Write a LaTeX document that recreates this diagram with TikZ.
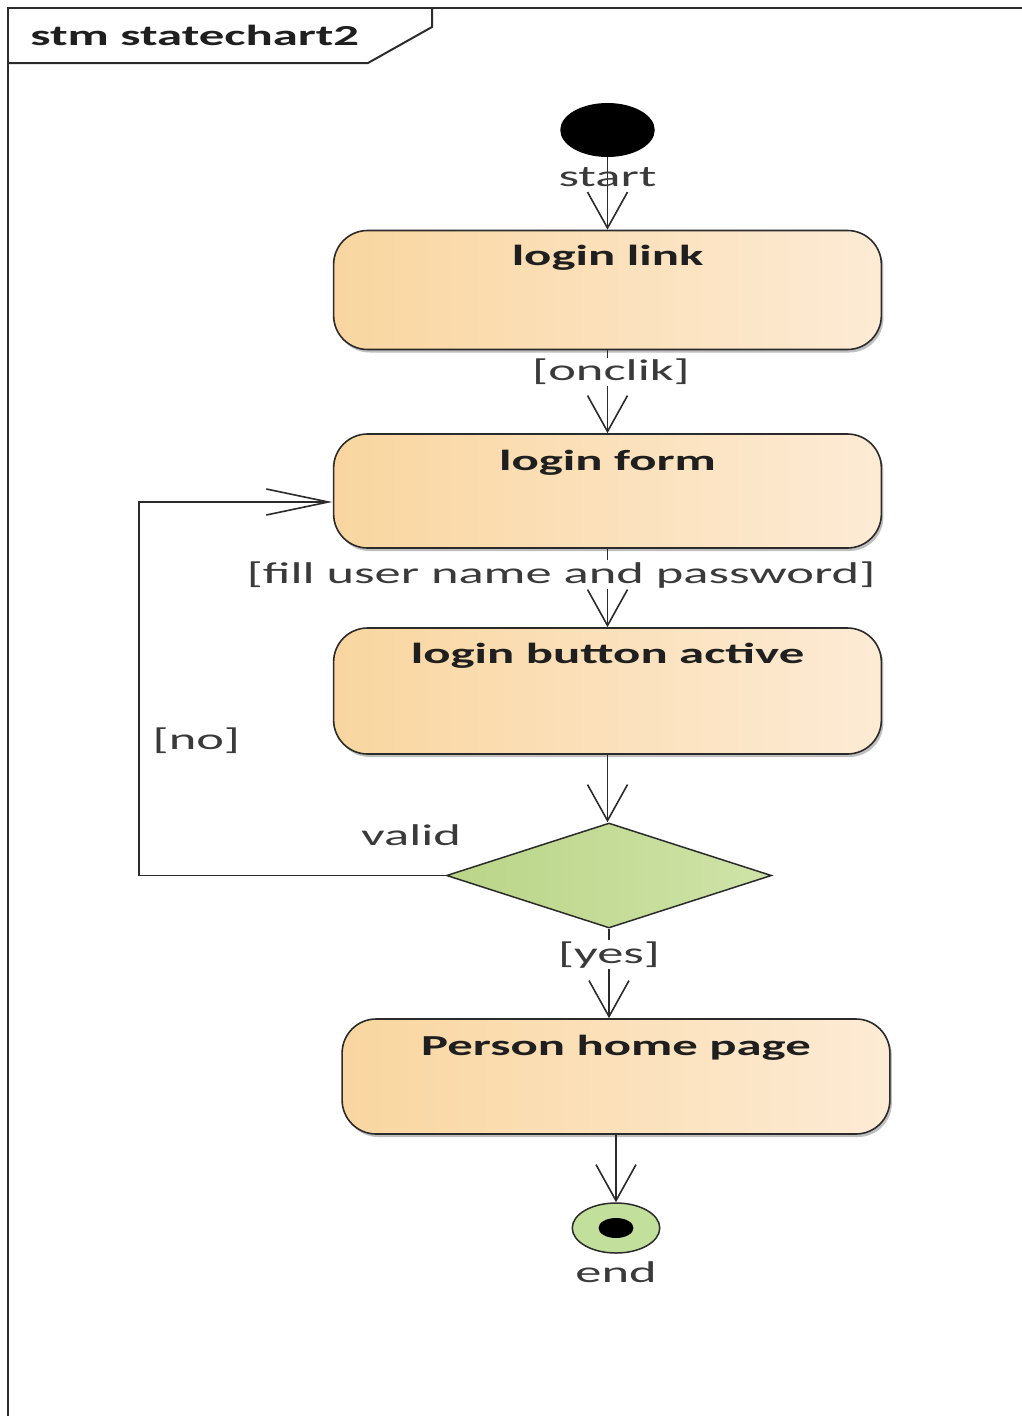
\documentclass[tikz,border=0pt]{standalone}
\usepackage{fontspec}
\setmainfont{Carlito}
\usetikzlibrary{arrows.meta,shapes.geometric,shadows,calc}

\definecolor{ink}{HTML}{2B2B2B}
\definecolor{txt}{HTML}{1F1F1F}
\definecolor{lbltxt}{HTML}{3A3A3A}
\definecolor{stateL}{HTML}{F9D6A0}
\definecolor{stateR}{HTML}{FDEBD5}
\definecolor{choiceL}{HTML}{BAD588}
\definecolor{choiceR}{HTML}{CFE3A8}
\definecolor{finalfill}{HTML}{C3DF9C}

\tikzset{
  wide/.style={xscale=1.75},
  basefont/.style={font=\fontsize{30}{35}\selectfont},
  state/.style={wide, draw=ink, line width=1.6pt, rounded corners=34pt,
    left color=stateL, right color=stateR, minimum width=313pt,
    inner xsep=0pt, inner ysep=0pt, font=\fontsize{29}{34}\selectfont\bfseries,
    text=txt, drop shadow={shadow xshift=2pt, shadow yshift=-3pt, opacity=0.25, fill=black}},
  choice/.style={diamond, draw=ink, line width=1.5pt, left color=choiceL,
    right color=choiceR, minimum width=325pt, minimum height=105pt, inner sep=0pt},
  initial/.style={wide, circle, fill=black, minimum size=54pt, inner sep=0pt},
  final/.style={wide, circle, draw=ink, line width=1.5pt, fill=finalfill,
    minimum size=50pt, inner sep=0pt},
  finaldot/.style={wide, circle, fill=black, minimum size=20pt, inner sep=0pt},
  lbl/.style={wide, basefont, text=lbltxt, inner sep=1pt},
  guard/.style={lbl, fill=white},
  flow/.style={draw=ink, line width=1.6pt},
  varrow/.style={-{Straight Barb[length=36pt,width=40pt,line width=1.6pt]}},
  harrow/.style={-{Straight Barb[length=62pt,width=26pt,line width=1.6pt]}},
  frameline/.style={draw=ink, line width=2pt},
}

\begin{document}
\begin{tikzpicture}[x=1pt,y=1pt]
\useasboundingbox (0,0) rectangle (1022,-1416);
\fill[white] (0,0) rectangle (1022,-1416);

% diagram frame and its name tab
\draw[frameline] (8,-1416) -- (8,-8) -- (1022,-8);
\draw[frameline] (432,-8) -- (432,-27) -- (368,-63) -- (8,-63);
\node[wide, anchor=base west, font=\fontsize{29}{34}\selectfont\bfseries, text=txt, inner sep=0pt]
  (frametitle) at (30,-45) {stm statechart2};

% states
\node[initial] (init) at (607.5,-130) {};
\node[state, text height=35pt, text depth=84pt] (s1) at (607.5,-290) {login link};
\node[state, text height=36pt, text depth=78pt] (s2) at (607.5,-491) {login form};
\node[state, text height=35pt, text depth=91pt] (s3) at (607.5,-691) {login button active};
\node[choice] (d) at (609,-875.5) {};
\node[lbl] (validlbl) at (411,-835) {valid};
\node[state, text height=36pt, text depth=79pt] (s4) at (616,-1076.5) {Person home page};
\node[final] (fin) at (616,-1228) {};
\node[finaldot] (findot) at (fin.center) {};
\node[lbl, anchor=north] (endlbl) at (616,-1260) {end};

% transitions
\draw[flow, varrow] (init.south) -- node[lbl, pos=0.27] {start} (s1.north);
\draw[flow, varrow] (s1.south) -- node[guard, pos=0.26, xshift=2pt] {[onclik]} (s2.north);
\draw[flow, varrow] (s2.south) -- node[guard, pos=0.33, xshift=-26.5pt] {[fill user name and password]} (s3.north);
\draw[flow, varrow] (s3.south) -- (s3.south |- d.north);
\draw[flow, varrow] (d.south) -- node[guard, pos=0.29] {[yes]} (d.south |- s4.north);
\draw[flow, varrow] (s4.south -| fin.north) -- (fin.north);

\coordinate (loopin) at ([yshift=-11pt]s2.west);
\coordinate (loopcorner) at (139,-875.5);
\draw[flow, harrow] (d.west) -- (loopcorner)
  |- node[lbl, pos=0.18, anchor=west, xshift=6pt] {[no]} (loopin);
\end{tikzpicture}
\end{document}
